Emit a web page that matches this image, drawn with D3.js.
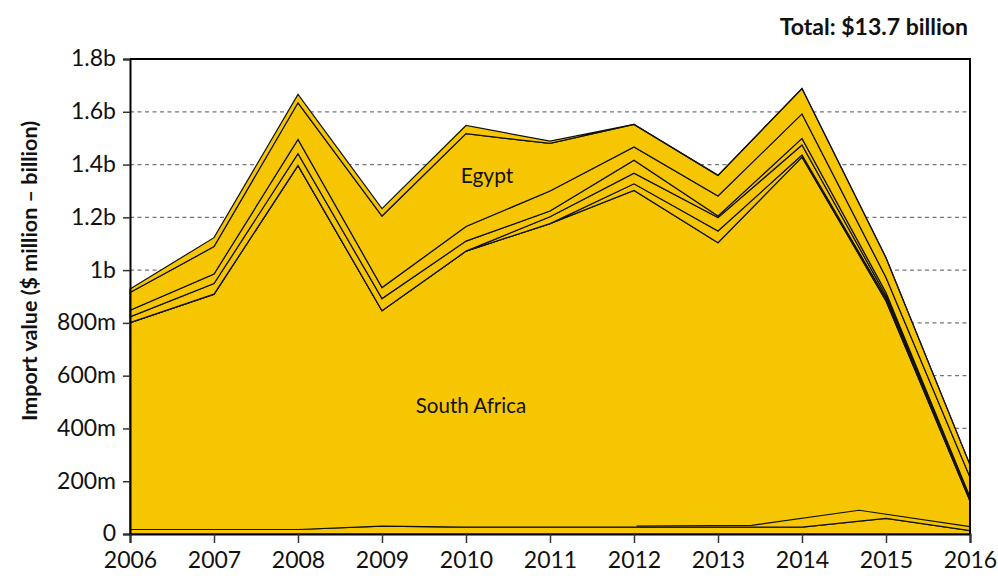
<!DOCTYPE html>
<html>
<head>
<meta charset="utf-8">
<script src="https://cdn.jsdelivr.net/npm/d3@7"></script>
<style>
  body { margin: 0; background: #fff; }
  svg text { font-family: Lato, "Open Sans", sans-serif; fill: #111; }
</style>
</head>
<body>
<svg id="chart" width="998" height="578"></svg>
<script>
// values in $ million, one entry per year
var years = [2006, 2007, 2008, 2009, 2010, 2011, 2012, 2013, 2014, 2015, 2016];
var otherBottom = [17, 17, 17, 30, 26, 26, 26, 26, 26, 59, 13];
var southAfrica = [784, 892, 1380, 816, 1046, 1150, 1276, 1078, 1402, 824, 112];
var layer2 = [0, 0, 0, 0, 0, 0, 25, 44, 8, 10, 3];
var layer3 = [0, 0, 0, 0, 0, 26, 40, 51, 38, 10, 5];
var layer4 = [22, 40, 44, 46, 38, 22, 49, 6, 25, 12, 7];
var layer5 = [25, 36, 54, 42, 55, 76, 51, 76, 93, 57, 75];
var egypt = [67, 104, 139, 271, 352, 180, 85, 78, 96, 75, 47];
var topLayer = [13, 34, 32, 28, 31, 9, 0, 0, 0, 0, 0];

// a small series reported at uneven dates near the bottom
var smallYears = [2012.03, 2013.4, 2014.68, 2016];
var smallValues = [30, 33, 90, 28];

var yTicks = [0, 200, 400, 600, 800, 1000, 1200, 1400, 1600, 1800];
var yTickLabels = ["0", "200m", "400m", "600m", "800m", "1b", "1.2b", "1.4b", "1.6b", "1.8b"];

var keys = ["otherBottom", "southAfrica", "layer2", "layer3", "layer4", "layer5", "egypt", "topLayer"];
var series = {otherBottom: otherBottom, southAfrica: southAfrica, layer2: layer2, layer3: layer3,
  layer4: layer4, layer5: layer5, egypt: egypt, topLayer: topLayer};

var table = years.map(function(yr, i) {
  var row = {year: yr};
  keys.forEach(function(k) { row[k] = series[k][i]; });
  return row;
});

var svg = d3.select("#chart");
var plotLeft = 130, plotRight = 970, plotTop = 59, plotBottom = 534;
var fill = "#f6c603";

var x = d3.scaleLinear().domain([2006, 2016]).range([plotLeft, plotRight]);
var y = d3.scaleLinear().domain([0, 1800]).range([plotBottom, plotTop]);

// grid
svg.append("g")
  .selectAll("line")
  .data(yTicks.filter(function(d) { return d > 0 && d < 1800; }))
  .join("line")
  .attr("x1", plotLeft).attr("x2", plotRight)
  .attr("y1", function(d) { return y(d); })
  .attr("y2", function(d) { return y(d); })
  .attr("stroke", "#777")
  .attr("stroke-width", 1.2)
  .attr("stroke-dasharray", "4,3.5");

var stacked = d3.stack().keys(keys)(table);

var area = d3.area()
  .x(function(d) { return x(d.data.year); })
  .y0(function(d) { return y(d[0]); })
  .y1(function(d) { return y(d[1]); });

svg.append("g")
  .selectAll("path")
  .data(stacked)
  .join("path")
  .attr("d", area)
  .attr("fill", fill)
  .attr("stroke", "#111")
  .attr("stroke-width", 1.2)
  .attr("stroke-linejoin", "miter");

var smallLine = d3.line()
  .x(function(d) { return x(d[0]); })
  .y(function(d) { return y(d[1]); });

svg.append("path")
  .attr("d", smallLine(d3.zip(smallYears, smallValues)))
  .attr("fill", "none")
  .attr("stroke", "#111")
  .attr("stroke-width", 1.2);

// frame
svg.append("path")
  .attr("d", "M" + plotLeft + "," + plotTop + "H" + plotRight + "V" + plotBottom)
  .attr("fill", "none")
  .attr("stroke", "#000")
  .attr("stroke-width", 2);

// axes
var yAxis = d3.axisLeft(y)
  .tickValues(yTicks)
  .tickFormat(function(d, i) { return yTickLabels[i]; })
  .tickSize(7)
  .tickPadding(7);

var gy = svg.append("g")
  .attr("transform", "translate(" + plotLeft + ",0)")
  .call(yAxis);

var xAxis = d3.axisBottom(x)
  .tickValues(years)
  .tickFormat(d3.format("d"))
  .tickSize(9)
  .tickPadding(9);

var gx = svg.append("g")
  .attr("transform", "translate(0," + plotBottom + ")")
  .call(xAxis);

[gx, gy].forEach(function(g) {
  g.select(".domain").attr("stroke", "#000").attr("stroke-width", 2);
  g.selectAll(".tick line").attr("stroke", "#333").attr("stroke-width", 1.5);
  g.selectAll("text")
    .attr("font-size", 23)
    .attr("fill", "#111")
    .style("font-family", "Lato, sans-serif");
});
gy.selectAll("text").attr("dy", "0.3em");

// labels
svg.append("text")
  .attr("x", 968).attr("y", 35)
  .attr("text-anchor", "end")
  .attr("font-size", 23)
  .attr("font-weight", "bold")
  .text("Total: $13.7 billion");

svg.append("text")
  .attr("transform", "translate(37,271) rotate(-90)")
  .attr("text-anchor", "middle")
  .attr("font-size", 21.5)
  .attr("font-weight", "bold")
  .text("Import value ($ million \u2013 billion)");

svg.append("text")
  .attr("x", 487).attr("y", 183)
  .attr("text-anchor", "middle")
  .attr("font-size", 21)
  .text("Egypt");

svg.append("text")
  .attr("x", 471).attr("y", 413)
  .attr("text-anchor", "middle")
  .attr("font-size", 20.5)
  .text("South Africa");
</script>
</body>
</html>
